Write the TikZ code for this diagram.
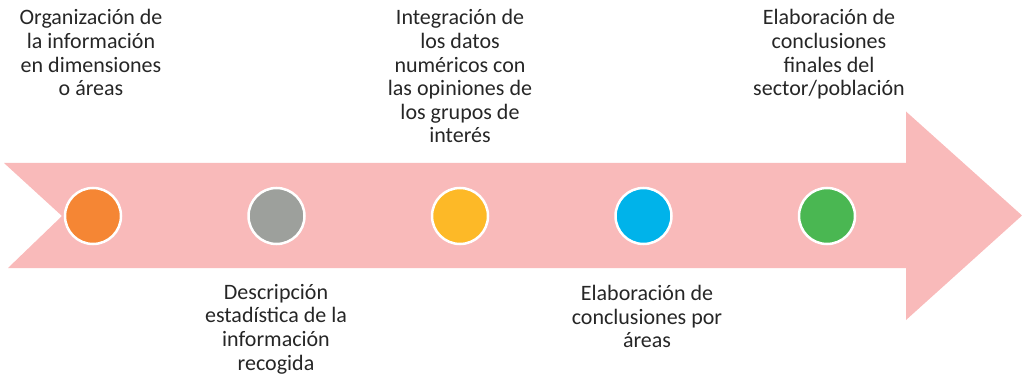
\documentclass[tikz,border=0pt]{standalone}
\usepackage{fontspec}
\setmainfont{Carlito}
\definecolor{pfeil}{HTML}{F9BABA}
\definecolor{orange1}{HTML}{F58634}
\definecolor{grau1}{HTML}{9DA09C}
\definecolor{gelb1}{HTML}{FDB927}
\definecolor{blau1}{HTML}{00B3EA}
\definecolor{gruen1}{HTML}{4AB752}
\begin{document}
\begin{tikzpicture}[x=1pt,y=1pt,
  punkt/.style={circle,draw=white,line width=2.5pt,minimum size=56pt,inner sep=0pt},
  etikett/.style={align=center,inner sep=0pt,text=black!85,font=\fontsize{22}{23.6}\selectfont}]
\useasboundingbox (0,0) rectangle (1022,375);
% Pfeil
\fill[pfeil] (4,212) -- (62,159) -- (8,107) -- (906,107) -- (906,55) -- (1022,159.5) -- (906,263.5) -- (906,212) --cycle;

% Punkte
\node[punkt,fill=orange1] (p1) at (93,159) {};
\node[punkt,fill=grau1] (p2) at (276.5,159) {};
\node[punkt,fill=gelb1] (p3) at (460,159) {};
\node[punkt,fill=blau1] (p4) at (643.5,159) {};
\node[punkt,fill=gruen1] (p5) at (827,159) {};

% Texte
\node[etikett,anchor=north] (t1) at (91,365.5) {Organización de\\la información\\en dimensiones\\o áreas};
\node[etikett,anchor=north] (t2) at (276,91) {Descripción\\estadística de la\\información\\recogida};
\node[etikett,anchor=north] (t3) at (460,365.5) {Integración de\\los datos\\numéricos con\\las opiniones de\\los grupos de\\interés};
\node[etikett,anchor=north] (t4) at (647,90) {Elaboración de\\conclusiones por\\áreas};
\node[etikett,anchor=north] (t5) at (829,365.5) {Elaboración de\\conclusiones\\finales del\\sector/población};
\end{tikzpicture}
\end{document}
